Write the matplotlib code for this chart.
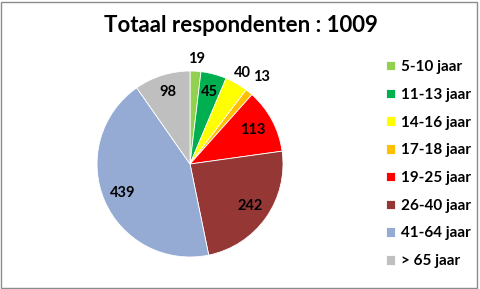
import matplotlib
matplotlib.use("Agg")
import matplotlib.pyplot as plt
import numpy as np
from matplotlib.patches import Rectangle

categories = ["5-10 jaar", "11-13 jaar", "14-16 jaar", "17-18 jaar",
              "19-25 jaar", "26-40 jaar", "41-64 jaar", "> 65 jaar"]
values = [19, 45, 40, 13, 113, 242, 439, 98]
colors = ["#92D050", "#00B050", "#FFFF00", "#FFC000",
          "#FF0000", "#953735", "#95ABD4", "#BFBFBF"]
label_radius = [1.13, 0.80, 1.13, 1.21, 0.77, 0.79, 0.79, 0.81]
title = "Totaal respondenten : 1009"

plt.rcParams['font.family'] = ['Lato', 'DejaVu Sans']

fig = plt.figure(figsize=(4.81, 2.89), dpi=100)
ax = fig.add_axes([0.2017, 0.1107, 0.3867, 0.6436])
wedges, _ = ax.pie(values, colors=colors, startangle=90, counterclock=False,
                   wedgeprops=dict(linewidth=0.6, edgecolor="white"))
ax.set_xlim(-1, 1)
ax.set_ylim(-1, 1)
ax.set_aspect('auto')

for w, v, r in zip(wedges, values, label_radius):
    ang = np.deg2rad((w.theta1 + w.theta2) / 2)
    ax.text(r * np.cos(ang), r * np.sin(ang), str(v), ha='center', va='center',
            fontsize=10.5, fontweight='bold', color='black')

fig.text(0.5, 1 - 26 / 289, title, ha='center', va='center',
         fontsize=16, fontweight='bold')

leg = fig.legend(wedges, categories, loc='upper left',
                 bbox_to_anchor=(386 / 481, 1 - 60 / 289),
                 frameon=False, fontsize=11, handlelength=0.6, handleheight=0.6,
                 handletextpad=0.35, labelspacing=0.9, borderaxespad=0,
                 borderpad=0)
for t in leg.get_texts():
    t.set_fontweight('bold')

fig.patches.append(Rectangle((1 / 481, 1 / 289), 476 / 481, 286 / 289,
                             transform=fig.transFigure, fill=False,
                             edgecolor='#8C8C8C', linewidth=1))

fig.savefig("out.png", dpi=100)
